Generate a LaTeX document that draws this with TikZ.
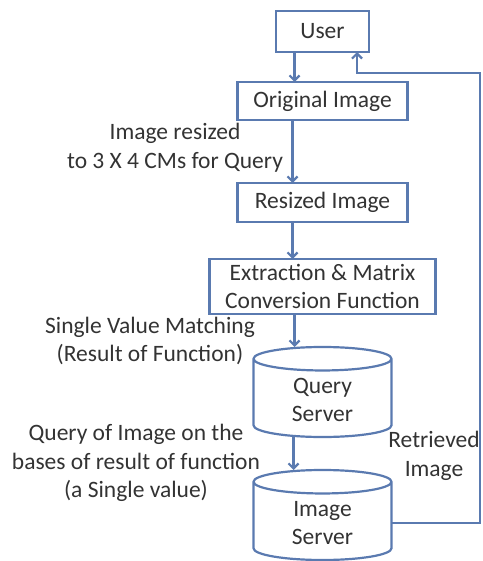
\documentclass[tikz,border=0pt]{standalone}
\usepackage{fontspec}
\setmainfont{Carlito}
\usepackage{tikz}
\usetikzlibrary{arrows.meta,positioning,shapes.geometric}
\definecolor{edge}{HTML}{5A7AB0}
\definecolor{ink}{HTML}{333333}
\tikzset{
  box/.style={draw=edge,line width=2.2pt,fill=white,align=center,text=ink,inner sep=2pt,outer sep=0pt},
  dbase/.style={cylinder,shape border rotate=90,shape aspect=0.36,draw=edge,line width=2.2pt,fill=white,align=center,text=ink,inner sep=2pt,outer sep=0pt,minimum width=138pt,minimum height=90pt},
  lab/.style={align=center,text=ink},
  arr/.style={-{Straight Barb[length=5pt,width=10pt]},draw=edge,line width=2.2pt},
}
\begin{document}
\begin{tikzpicture}[x=1pt,y=-1pt,font=\fontsize{23.5}{28.5}\selectfont]
  \useasboundingbox (0,0) rectangle (482,561);
  \node[box,minimum width=93pt,minimum height=41pt] (user) at (322.5,31.5) {User};
  \node[box,minimum width=170pt,minimum height=38pt,below=30pt of user] (orig) {Original Image};
  \node[box,minimum width=170pt,minimum height=39pt,below=63pt of orig] (resz) {Resized Image};
  \node[box,minimum width=226pt,minimum height=55pt,below=37pt of resz] (extr) {Extraction \& Matrix\\Conversion Function};
  \node[dbase,below=33pt of extr] (qsrv) {Query\\Server};
  \node[dbase,below=33pt of qsrv] (isrv) {Image\\Server};
  \coordinate (fb) at (480,73);
  \draw[arr] ([xshift=-28pt]user.south) -- ([xshift=-28pt]orig.north);
  \draw[arr] ([xshift=-30pt]orig.south) -- ([xshift=-30pt]resz.north);
  \draw[arr] ([xshift=-30pt]resz.south) -- ([xshift=-30pt]extr.north);
  \draw[arr] ([xshift=-28pt]extr.south) -- ([xshift=-28pt]qsrv.north);
  \draw[arr] ([xshift=-29pt]qsrv.south) -- ([xshift=-29pt]isrv.north);
  \draw[arr] (isrv.east) -| (fb) -| ([xshift=34.5pt]user.south);
  \node[lab] (l1) at (175,147.5) {Image resized\\to 3 X 4 CMs for Query};
  \node[lab] (l2) at (150,341) {Single Value Matching\\(Result of Function)};
  \node[lab] (l3) at (136,463) {Query of Image on the\\bases of result of function\\(a Single value)};
  \node[lab] (l4) at (434,456) {Retrieved\\Image};
\end{tikzpicture}
\end{document}
